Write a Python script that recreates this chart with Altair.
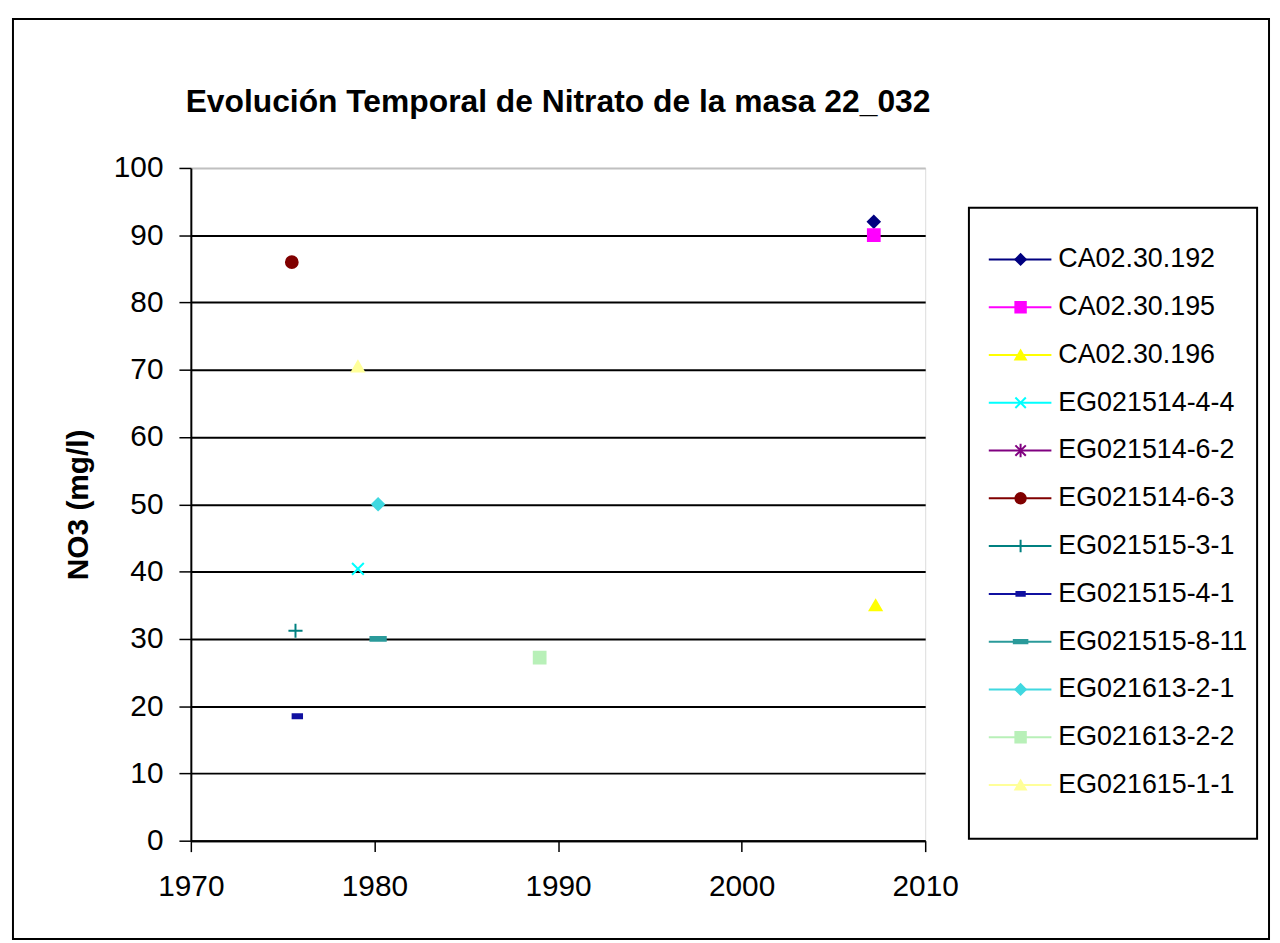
import altair as alt
import pandas as pd

# ---- data ----
series = ["CA02.30.192", "CA02.30.195", "CA02.30.196", "EG021514-4-4", "EG021514-6-2",
          "EG021514-6-3", "EG021515-3-1", "EG021515-4-1", "EG021515-8-11", "EG021613-2-1",
          "EG021613-2-2", "EG021615-1-1"]
years = [2007.2, 2007.2, 2007.3, 1979.1, None, 1975.5, 1975.7, 1975.8, 1980.2, 1980.2, 1989.0, 1979.1]
no3 = [92.0, 90.0, 35.0, 40.4, None, 86.0, 31.2, 18.5, 30.0, 50.0, 27.2, 70.5]
colors = ["#000080", "#FF00FF", "#FFFF00", "#00FFFF", "#800080", "#800000", "#008080",
          "#1010A0", "#2A9A9A", "#40D8E0", "#B8F0B8", "#FFFF99"]
shapes = ["diamond", "square", "triangle-up",
          "M-1,-1L1,1M1,-1L-1,1",
          "M-1,-1L1,1M1,-1L-1,1M0,-1.3V1.3",
          "circle",
          "M-1.2,0H1.2M0,-1.2V1.2",
          "M-0.8,-0.35H0.8V0.35H-0.8Z",
          "M-1.3,-0.3H1.3V0.3H-1.3Z",
          "diamond", "square", "triangle-up"]
x_ticks = [1970, 1980, 1990, 2000, 2010]
y_ticks = [0, 10, 20, 30, 40, 50, 60, 70, 80, 90, 100]
title_text = "Evolución Temporal de Nitrato de la masa 22_032"
y_title = "NO3 (mg/l)"

rows = [(s, x, v) for s, x, v in zip(series, years, no3) if x is not None]
pts_df = pd.DataFrame(rows, columns=["serie", "year", "no3"])
leg_df = pd.DataFrame({"serie": series})
one_df = pd.DataFrame({"k": [0]})

FONT = "Liberation Sans"
W, H = 739, 677

color_scale = alt.Scale(domain=series, range=colors)
shape_scale = alt.Scale(domain=series, range=shapes)
leg_y = alt.Y("serie:N", scale=alt.Scale(type="point", domain=series, range=[68, 645]), axis=None)

frame = alt.Chart(one_df).mark_rect(fillOpacity=0, stroke="black", strokeWidth=2).encode(
    x=alt.value(-179), x2=alt.value(1085), y=alt.value(-150), y2=alt.value(776)
)
title = alt.Chart(one_df).mark_text(text=title_text, fontSize=32, font=FONT, fontWeight="bold",
                                    color="black", align="center", baseline="middle").encode(
    x=alt.value(W / 2), y=alt.value(-66)
)
leg_box = alt.Chart(one_df).mark_rect(fill="white", stroke="black", strokeWidth=2).encode(
    x=alt.value(783), x2=alt.value(1073), y=alt.value(40), y2=alt.value(675)
)

points = alt.Chart(pts_df).mark_point(filled=True, size=140, strokeWidth=2, opacity=1).encode(
    x=alt.X("year:Q", scale=alt.Scale(domain=[1970, 2010], nice=False, zero=False),
            axis=alt.Axis(values=x_ticks, format="d", title=None, grid=False,
                          labelFontSize=30, labelFont=FONT, labelColor="black",
                          labelPadding=20, labelFlush=False, labelOverlap=False,
                          tickSize=11, tickColor="black", tickWidth=1.5,
                          domainColor="black", domainWidth=2)),
    y=alt.Y("no3:Q", scale=alt.Scale(domain=[0, 100], nice=False),
            axis=alt.Axis(values=y_ticks, title=y_title, grid=True,
                          gridColor={"condition": {"test": "datum.value >= 100", "value": "#c0c0c0"},
                                     "value": "black"},
                          gridWidth=2, gridOpacity=1,
                          labelFontSize=30, labelFont=FONT, labelColor="black",
                          labelPadding=16, labelFlush=False, labelOverlap=False,
                          tickSize=12, tickColor="black", tickWidth=1.5,
                          domainColor="black", domainWidth=2,
                          titleFont=FONT, titleFontSize=30, titleFontWeight="bold",
                          titleColor="black", titlePadding=20)),
    color=alt.Color("serie:N", scale=color_scale, legend=None),
    stroke=alt.Stroke("serie:N", scale=color_scale, legend=None),
    shape=alt.Shape("serie:N", scale=shape_scale, legend=None),
)

leg_lines = alt.Chart(leg_df).mark_rule(strokeWidth=2).encode(
    x=alt.value(803), x2=alt.value(866), y=leg_y,
    color=alt.Color("serie:N", scale=color_scale, legend=None),
)
leg_pts = alt.Chart(leg_df).mark_point(filled=True, size=110, strokeWidth=2, opacity=1).encode(
    x=alt.value(835), y=leg_y,
    color=alt.Color("serie:N", scale=color_scale, legend=None),
    stroke=alt.Stroke("serie:N", scale=color_scale, legend=None),
    shape=alt.Shape("serie:N", scale=shape_scale, legend=None),
)
leg_text = alt.Chart(leg_df).mark_text(align="left", baseline="middle", fontSize=27,
                                       font=FONT, color="black").encode(
    x=alt.value(873), y=leg_y, text="serie:N"
)

chart = alt.layer(frame, title, leg_box, points, leg_lines, leg_pts, leg_text).resolve_scale(
    y="independent"
).properties(
    width=W, height=H,
    padding={"left": 4, "top": 7, "right": 2, "bottom": 2},
).configure_view(
    fill="#c0c0c0", stroke="#909090", strokeWidth=1
).configure(background="white")

chart.save("out.html", embed_options={"renderer": "svg", "actions": False})
